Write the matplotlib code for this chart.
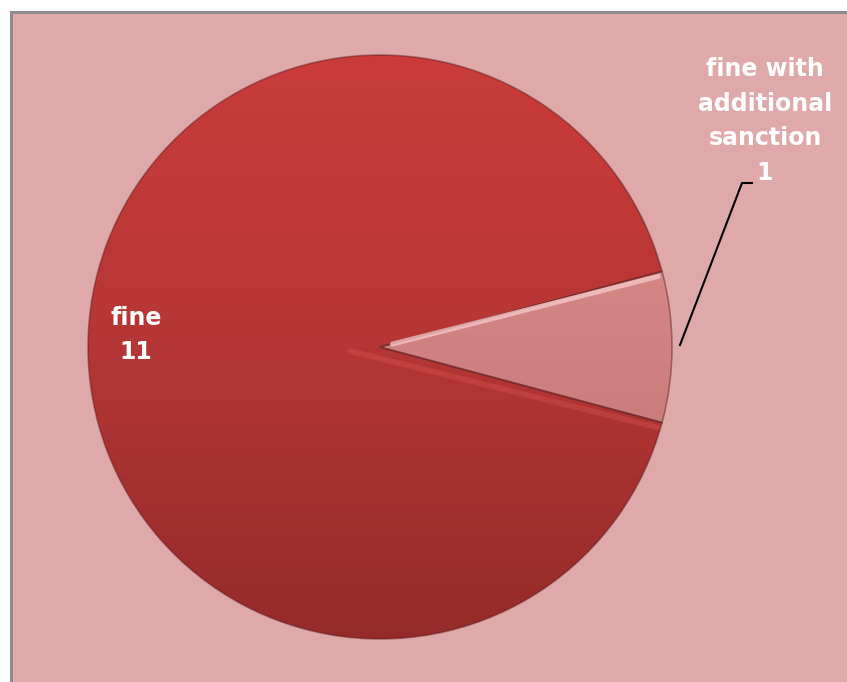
import matplotlib.pyplot as plt
import numpy as np
from matplotlib.colors import LinearSegmentedColormap
from matplotlib.patches import Rectangle

# penalty categories and counts
categories = ["fine", "fine with additional sanction"]
counts = [11, 1]

bg = "#E0A9A9"
fig = plt.figure(figsize=(8.47, 6.82), dpi=100)
ax = fig.add_axes([0, 0, 1, 1])

# chart area with grey frame
ax.add_patch(Rectangle((11, -5), 860, 675, facecolor=bg, edgecolor="#8C8C8C",
                       linewidth=2.2, zorder=0))

cx, cy, r = 380, 335, 292
wedges, _ = ax.pie(counts, startangle=15, counterclock=True,
                   explode=[0, 0.015], center=(cx, cy), radius=r,
                   wedgeprops=dict(linewidth=1.2, edgecolor=(0.35, 0.1, 0.1, 0.45)),
                   frame=True)
ax.set_xlim(0, 847)
ax.set_ylim(0, 682)
ax.set_aspect("equal")
ax.axis("off")

# vertical gradients clipped to each slice (light at top, dark at bottom)
grads = [["#CB3C3B", "#B53636", "#922A29"],
         ["#E49393", "#D08282", "#B46E6E"]]
for w, cols in zip(wedges, grads):
    cmap = LinearSegmentedColormap.from_list("g", cols)
    g = np.linspace(0, 1, 256).reshape(-1, 1)
    im = ax.imshow(g, cmap=cmap, extent=(cx - r - 20, cx + r + 20, cy - r - 20, cy + r + 20),
                   aspect="auto", zorder=2, origin="upper")
    im.set_clip_path(w)
    w.set_zorder(3)
    w.set_facecolor("none")

# soft highlights along the cut edges
a = np.deg2rad(15)
ox = cx + 0.015 * r
ax.plot([ox + 8, ox + r * np.cos(a) - 8], [cy + 3, cy + r * np.sin(a) - 5],
        color="#F8CACA", linewidth=3.5, alpha=0.75, zorder=4, solid_capstyle="round")
ax.plot([cx - 30, cx + r * np.cos(a) - 4], [cy - 4, cy - r * np.sin(a) - 5],
        color="#E25A5A", linewidth=4, alpha=0.3, zorder=4, solid_capstyle="round")

font = dict(color="white", fontweight="bold", family="DejaVu Sans", fontsize=17,
            ha="center", va="center", linespacing=1.55, zorder=6)
ax.text(136, 347, f"{categories[0]}\n{counts[0]}", **font)
ax.text(765, 561, "fine with\nadditional\nsanction\n" + str(counts[1]), **font)

# leader line to the small slice
ax.plot([680, 742, 752], [337, 499, 499], color="black", linewidth=1.5, zorder=6)

fig.savefig("out.png", dpi=100)
